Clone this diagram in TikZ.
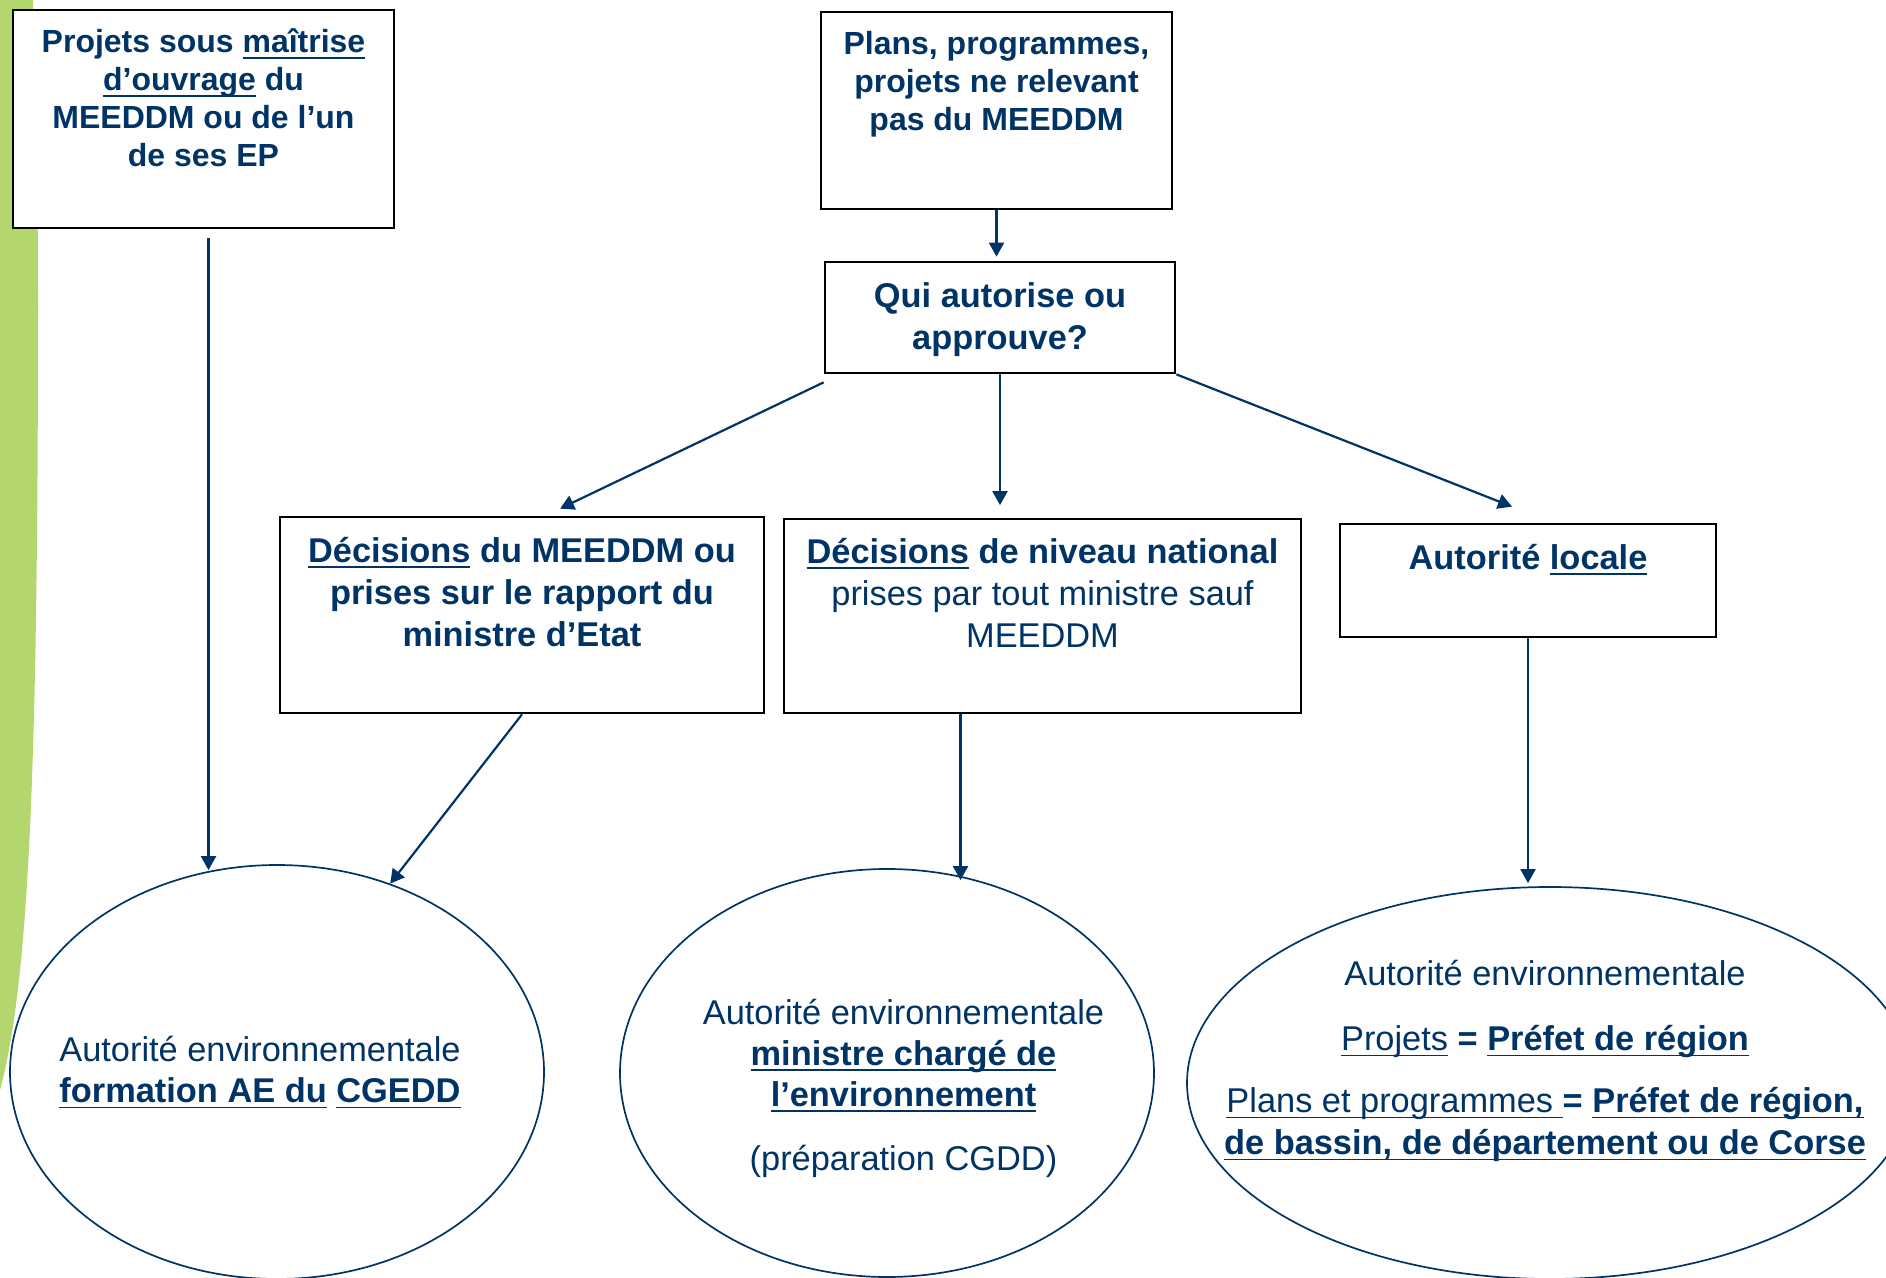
\documentclass[tikz,border=0pt]{standalone}
\usepackage{fontspec}
\setmainfont{Liberation Sans}
\usetikzlibrary{arrows.meta,shapes.geometric}
\definecolor{aeblue}{RGB}{0,51,102}
\definecolor{leafgreen}{RGB}{179,215,110}
% underline at a fixed depth
\newsavebox\ulbox
\newcommand{\uline}[1]{\leavevmode\sbox\ulbox{#1}\rlap{\rule[-1.65pt]{\wd\ulbox}{0.55pt}}\usebox\ulbox}
% text of a box, hanging from its top edge
\newcommand{\boxtext}[4][4.3mm]{\parbox[c][#2][t]{#3}{\centering\rule{0pt}{#1}#4}}

\tikzset{
  qbox/.style={draw=black, line width=0.27mm, fill=white, inner sep=0pt, text=aeblue},
  smallbold/.style={font=\fontsize{9.1pt}{10.8pt}\selectfont\bfseries},
  bigbold/.style={font=\fontsize{9.78pt}{11.95pt}\selectfont\bfseries},
  bignorm/.style={font=\fontsize{9.78pt}{11.95pt}\selectfont},
  aeell/.style={ellipse, draw=aeblue, line width=0.17mm, fill=white, inner sep=0pt},
  aetext/.style={text=aeblue, align=center, inner sep=0pt, anchor=north,
    font=\fontsize{9.78pt}{11.66pt}\selectfont},
  arr/.style={draw=aeblue, line width=0.22mm, -{Triangle[length=1.4mm,width=1.5mm]}}
}

\begin{document}
\begin{tikzpicture}[x=0.1mm,y=-0.1mm]
	\useasboundingbox (0,0) rectangle (1886,1278);
	% green band on the left
	\fill[leafgreen] (0,0) -- (33,0) .. controls (38,120) and (38,200) .. (38,300)
		.. controls (38,750) and (30,980) .. (0,1090) -- cycle;

	% boxes
	\node[qbox, smallbold] (A) at (203.5,119) {\boxtext{21.8mm}{38.1mm}{Projets sous \uline{maîtrise}\\ \uline{d’ouvrage} du\\ MEEDDM ou de l’un\\ de ses EP}};
	\node[qbox, smallbold] (B) at (996.5,110.5) {\boxtext{19.7mm}{35.1mm}{Plans, programmes,\\ projets ne relevant\\ pas du MEEDDM}};
	\node[qbox, bigbold, font=\fontsize{9.78pt}{11.9pt}\selectfont\bfseries] (Q) at (1000,317.5) {\boxtext[4.55mm]{11.1mm}{35mm}{Qui autorise ou\\ approuve?}};
	\node[qbox, bigbold] (D1) at (522,615) {\boxtext[4.55mm]{19.6mm}{48.4mm}{\uline{Décisions} du MEEDDM ou\\ prises sur le rapport du\\ ministre d’Etat}};
	\node[qbox, bignorm] (D2) at (1042.5,616) {\boxtext[4.45mm]{19.4mm}{51.7mm}{\textbf{\uline{Décisions} de niveau national}\\ prises par tout ministre sauf\\ MEEDDM}};
	\node[qbox, bigbold] (L) at (1528,580.5) {\boxtext[4.55mm]{11.3mm}{37.6mm}{Autorité \uline{locale}}};

	% ellipses
	\node[aeell, minimum width=53.4mm, minimum height=41.4mm] (E1) at (277,1072) {};
	\node[aeell, minimum width=53.4mm, minimum height=40.8mm] (E2) at (887,1073) {};
	\node[aeell, minimum width=72.6mm, minimum height=39.2mm] (E3) at (1550,1083) {};
	\node[aetext] (T1) at (260,1021) {\rule{0pt}{4mm}Autorité environnementale\\
		\textbf{\uline{formation AE du} \uline{CGEDD}}};
	\node[aetext] (T2) at (903.5,983.5) {\rule{0pt}{4mm}Autorité environnementale\\
		\textbf{\uline{ministre chargé de}}\\
		\textbf{\uline{l’environnement}}\\[2.3mm]
		(préparation CGDD)};
	\node[aetext] (T3) at (1545,945) {\rule{0pt}{4mm}Autorité environnementale\\[2.4mm]
		\uline{Projets} \textbf{= \uline{Préfet de région}}\\[2.1mm]
		\uline{Plans et programmes }\textbf{= \uline{Préfet de région,}}\\[0.1mm]
		\textbf{\uline{de bassin, de département ou de Corse}}};

	% arrows
	\draw[arr, shorten <=0.9mm, shorten >=-0.6mm] ([xshift=0.5mm]A.south) -- ([xshift=0.5mm]A.south |- E1.north);
	\draw[arr, shorten >=0.4mm] (B.south) -- (B.south |- Q.north);
	\draw[arr] ([yshift=-0.8mm]Q.south west) -- ([xshift=3.8mm,yshift=0.7mm]D1.north);
	\draw[arr, shorten >=1.25mm] (Q.south) -- (Q.south |- D2.north);
	\draw[arr] (Q.south east) -- ([xshift=-1.6mm,yshift=1.6mm]L.north);
	\draw[arr] (D1.south) -- (E1.59);
	\coordinate (d2foot) at ([xshift=-8.2mm]D2.south);
	\draw[arr, shorten >=-1.2mm] (d2foot) -- (d2foot |- E2.north);
	\draw[arr, shorten >=0.3mm] (L.south) -- (L.south |- E3.north);
\end{tikzpicture}
\end{document}
